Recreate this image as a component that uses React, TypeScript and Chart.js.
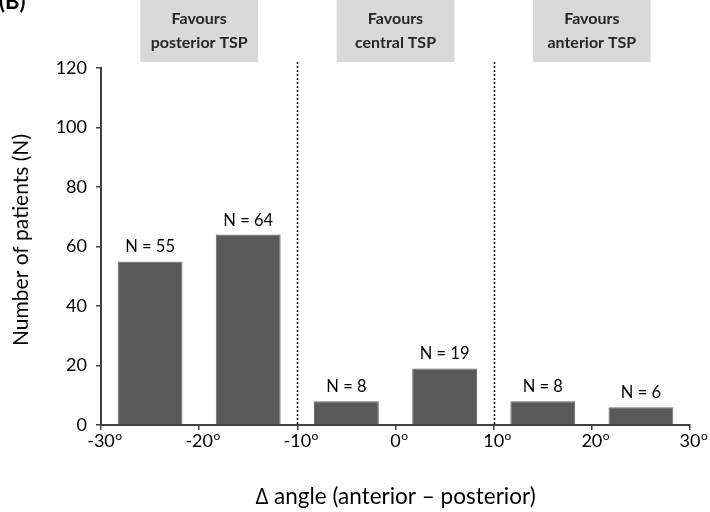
import { useEffect, useRef } from 'react';
import { Chart, registerables } from 'chart.js';

Chart.register(...registerables);

// ---- data ----
const binCentres = [-25, -15, -5, 5, 15, 25];
const patients = [55, 64, 8, 19, 8, 6];
const xTickValues = [-30, -20, -10, 0, 10, 20, 30];
const yTickMax = 120;
const yTickStep = 20;
const regionCentres = [-20, 0, 20];
const regionHalfWidth = 6;
const regionTitles = [
  ['Favours', 'posterior TSP'],
  ['Favours', 'central TSP'],
  ['Favours', 'anterior TSP'],
];
const dividerValues = [-10, 10];
const panelLabel = '(B)';
const xTitle = '\u2206 angle (anterior \u2013 posterior)';
const yTitle = 'Number of patients (N)';

const FONT = 'Lato, "Open Sans", sans-serif';

const overlayPlugin = {
  id: 'overlay',
  afterDatasetsDraw(chart: any) {
    const { ctx } = chart;
    const meta = chart.getDatasetMeta(0);
    ctx.save();
    ctx.fillStyle = '#000';
    ctx.font = `16.5px ${FONT}`;
    ctx.textAlign = 'center';
    ctx.textBaseline = 'alphabetic';
    meta.data.forEach((bar: any, i: number) => {
      ctx.fillText(`N = ${patients[i]}`, bar.x, bar.y - 9);
    });
    ctx.restore();
  },
  afterDraw(chart: any) {
    const { ctx, chartArea } = chart;
    const x = chart.scales.x;
    ctx.save();

    // dotted dividers
    ctx.strokeStyle = '#000';
    ctx.lineWidth = 1.5;
    ctx.setLineDash([2, 2]);
    dividerValues.forEach((v) => {
      const px = Math.round(x.getPixelForValue(v)) + 0.5;
      ctx.beginPath();
      ctx.moveTo(px, chartArea.top - 6);
      ctx.lineTo(px, chartArea.bottom);
      ctx.stroke();
    });
    ctx.setLineDash([]);

    // region boxes
    regionCentres.forEach((c, i) => {
      const l = x.getPixelForValue(c - regionHalfWidth);
      const r = x.getPixelForValue(c + regionHalfWidth);
      const cx = (l + r) / 2;
      ctx.fillStyle = '#d9d9d9';
      ctx.fillRect(l, 0, r - l, 62);
      ctx.fillStyle = '#262626';
      ctx.font = `bold 16px ${FONT}`;
      ctx.textAlign = 'center';
      ctx.textBaseline = 'middle';
      ctx.fillText(regionTitles[i][0], cx, 19);
      ctx.fillText(regionTitles[i][1], cx, 43);
    });

    // x tick labels with superscript degree "o"
    ctx.fillStyle = '#000';
    ctx.textBaseline = 'alphabetic';
    xTickValues.forEach((v) => {
      const px = x.getPixelForValue(v);
      const num = `${v}`;
      ctx.font = `18px ${FONT}`;
      const w = ctx.measureText(num).width;
      ctx.textAlign = 'left';
      ctx.fillText(num, px - w / 2, 447);
      ctx.font = `12px ${FONT}`;
      ctx.fillText('o', px + w / 2 + 0.5, 440);
    });

    // axis titles
    ctx.textAlign = 'center';
    ctx.textBaseline = 'middle';
    ctx.font = `22.5px ${FONT}`;
    ctx.fillText(xTitle, (chartArea.left + chartArea.right) / 2, 497);
    ctx.font = `21px ${FONT}`;
    ctx.save();
    ctx.translate(21, 240);
    ctx.rotate(-Math.PI / 2);
    ctx.fillText(yTitle, 0, 0);
    ctx.restore();

    // panel label
    ctx.font = `bold 22px ${FONT}`;
    ctx.textAlign = 'left';
    ctx.textBaseline = 'alphabetic';
    ctx.fillText(panelLabel, -1, 9);

    ctx.restore();
  },
};

export default function App() {
  const ref = useRef<HTMLCanvasElement | null>(null);

  useEffect(() => {
    document.body.style.margin = '0';
    const canvas = ref.current;
    if (!canvas) return;
    const chart = new Chart(canvas, {
      type: 'bar',
      data: {
        datasets: [
          {
            data: binCentres.map((c, i) => ({ x: c, y: patients[i] })),
            backgroundColor: '#595959',
            borderColor: '#6a6a6a',
            borderWidth: 1,
            categoryPercentage: 1,
            barPercentage: 0.66,
          },
        ],
      },
      options: {
        responsive: false,
        animation: false,
        devicePixelRatio: 1,
        layout: { padding: { top: 68, right: 20, left: 0, bottom: 0 } },
        plugins: {
          legend: { display: false },
          tooltip: { enabled: false },
          title: { display: false },
        },
        scales: {
          x: {
            type: 'linear',
            min: xTickValues[0],
            max: xTickValues[xTickValues.length - 1],
            offset: false,
            afterFit: (s: any) => {
              s.height = 87;
            },
            ticks: { stepSize: 10, color: 'rgba(0,0,0,0)', font: { size: 17, family: FONT } },
            grid: {
              offset: false,
              drawOnChartArea: false,
              drawTicks: true,
              tickLength: 5,
              color: '#404040',
              lineWidth: 1.5,
            },
            border: { display: true, color: '#404040', width: 2 },
          },
          y: {
            min: 0,
            max: yTickMax,
            afterFit: (s: any) => {
              s.width = 101;
            },
            ticks: {
              stepSize: yTickStep,
              color: '#000',
              padding: 9,
              font: { size: 18, family: FONT },
            },
            grid: {
              drawOnChartArea: false,
              drawTicks: true,
              tickLength: 5,
              color: '#404040',
              lineWidth: 1.5,
            },
            border: { display: true, color: '#404040', width: 2 },
          },
        },
      },
      plugins: [overlayPlugin],
    } as any);
    return () => chart.destroy();
  }, []);

  return (
    <div style={{ width: 710, height: 512 }}>
      <canvas ref={ref} width={710} height={512} style={{ width: 710, height: 512, display: 'block' }} />
    </div>
  );
}
